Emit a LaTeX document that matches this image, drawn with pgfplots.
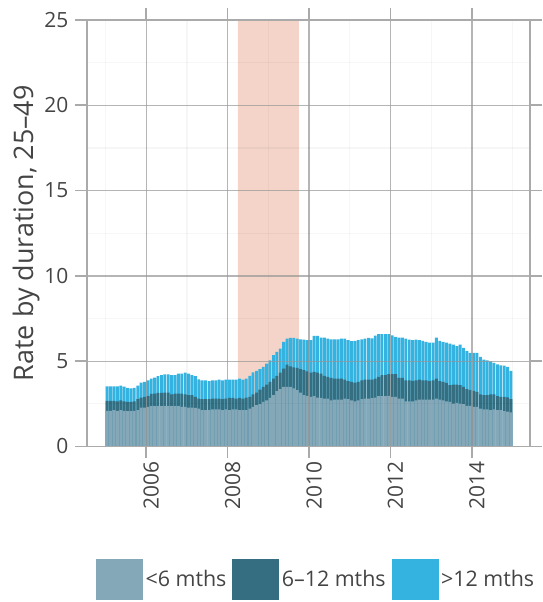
\documentclass[border=0pt]{standalone}
\usepackage{pgfplots}
\usepackage{pgfplotstable}
\usepackage{fontspec}
\setmainfont{Open Sans}
\pgfplotsset{compat=1.18}
\definecolor{cLow}{RGB}{133,168,185}
\definecolor{cMid}{RGB}{52,110,128}
\definecolor{cHigh}{RGB}{52,178,224}
\definecolor{cRec}{RGB}{244,212,200}
\definecolor{cText}{RGB}{68,68,68}
\definecolor{cAxis}{RGB}{170,170,170}
\definecolor{cGrid}{RGB}{150,150,150}
\pgfplotstableread{
x low mid tot
2005.042 2.09 2.67 3.53
2005.125 2.09 2.67 3.53
2005.208 2.13 2.67 3.53
2005.292 2.09 2.65 3.53
2005.375 2.13 2.71 3.57
2005.458 2.09 2.65 3.51
2005.542 2.07 2.62 3.43
2005.625 2.07 2.62 3.40
2005.708 2.09 2.65 3.43
2005.792 2.13 2.77 3.57
2005.875 2.28 2.87 3.75
2005.958 2.28 2.91 3.79
2006.042 2.32 2.95 3.88
2006.125 2.36 3.08 3.98
2006.208 2.36 3.10 4.04
2006.292 2.36 3.14 4.12
2006.375 2.36 3.14 4.18
2006.458 2.36 3.16 4.22
2006.542 2.36 3.16 4.22
2006.625 2.36 3.06 4.18
2006.708 2.36 3.10 4.18
2006.792 2.36 3.10 4.27
2006.875 2.32 3.10 4.27
2006.958 2.32 3.06 4.33
2007.042 2.28 3.01 4.27
2007.125 2.28 3.01 4.18
2007.208 2.26 2.91 4.12
2007.292 2.22 2.81 3.94
2007.375 2.13 2.77 3.88
2007.458 2.13 2.77 3.88
2007.542 2.13 2.77 3.83
2007.625 2.17 2.81 3.88
2007.708 2.17 2.81 3.88
2007.792 2.17 2.81 3.92
2007.875 2.13 2.77 3.88
2007.958 2.17 2.81 3.92
2008.042 2.13 2.85 3.92
2008.125 2.17 2.85 3.92
2008.208 2.17 2.81 3.92
2008.292 2.13 2.85 3.98
2008.375 2.13 2.81 3.92
2008.458 2.13 2.87 3.98
2008.542 2.22 2.91 4.14
2008.625 2.32 3.06 4.34
2008.708 2.42 3.16 4.43
2008.792 2.48 3.34 4.53
2008.875 2.62 3.49 4.66
2008.958 2.71 3.63 4.86
2009.042 2.85 3.79 5.05
2009.125 3.01 3.98 5.35
2009.208 3.24 4.14 5.54
2009.292 3.36 4.33 5.74
2009.375 3.49 4.57 6.13
2009.458 3.49 4.80 6.32
2009.542 3.49 4.70 6.36
2009.625 3.40 4.63 6.36
2009.708 3.30 4.61 6.32
2009.792 3.16 4.53 6.28
2009.875 3.01 4.47 6.26
2009.958 2.97 4.41 6.23
2010.042 2.91 4.33 6.23
2010.125 2.95 4.37 6.48
2010.208 2.87 4.33 6.48
2010.292 2.85 4.27 6.38
2010.375 2.81 4.14 6.38
2010.458 2.81 4.08 6.32
2010.542 2.71 4.02 6.28
2010.625 2.75 3.98 6.28
2010.708 2.75 3.98 6.28
2010.792 2.75 3.98 6.32
2010.875 2.81 3.92 6.32
2010.958 2.77 3.83 6.23
2011.042 2.71 3.79 6.17
2011.125 2.65 3.75 6.19
2011.208 2.71 3.79 6.23
2011.292 2.77 3.88 6.28
2011.375 2.81 3.92 6.32
2011.458 2.81 3.92 6.37
2011.542 2.83 3.92 6.34
2011.625 2.87 3.98 6.50
2011.708 2.95 4.08 6.58
2011.792 2.95 4.18 6.58
2011.875 2.95 4.18 6.58
2011.958 2.97 4.24 6.58
2012.042 2.91 4.24 6.52
2012.125 2.91 4.24 6.42
2012.208 2.81 4.02 6.38
2012.292 2.81 4.02 6.38
2012.375 2.65 3.88 6.32
2012.458 2.65 3.88 6.26
2012.542 2.65 3.84 6.23
2012.625 2.71 3.88 6.26
2012.708 2.75 3.92 6.23
2012.792 2.75 3.88 6.19
2012.875 2.75 3.88 6.13
2012.958 2.75 3.83 6.09
2013.042 2.75 3.88 6.09
2013.125 2.81 3.98 6.38
2013.208 2.75 3.83 6.19
2013.292 2.71 3.79 6.13
2013.375 2.65 3.73 6.09
2013.458 2.62 3.59 6.03
2013.542 2.52 3.63 5.97
2013.625 2.56 3.63 5.89
2013.708 2.52 3.59 5.97
2013.792 2.48 3.49 5.78
2013.875 2.38 3.36 5.60
2013.958 2.38 3.30 5.48
2014.042 2.32 3.26 5.48
2014.125 2.32 3.20 5.48
2014.208 2.22 3.05 5.25
2014.292 2.18 3.01 5.09
2014.375 2.18 3.01 5.05
2014.458 2.13 3.05 4.99
2014.542 2.18 3.05 4.90
2014.625 2.13 2.95 4.82
2014.708 2.13 2.91 4.76
2014.792 2.07 2.91 4.74
2014.875 2.05 2.88 4.66
2014.958 2.00 2.77 4.43
}\data
\begin{document}
\begin{tikzpicture}
\begin{axis}[
  scale only axis,
  width=445bp, height=428bp,
  xmin=2004.54, xmax=2015.43,
  ymin=0, ymax=25,
  axis on top,
  xtick={2006,2008,2010,2012,2014},
  minor xtick={2005,2007,2009,2011,2013,2015},
  ytick={0,5,10,15,20,25},
  minor ytick={2.5,7.5,12.5,17.5,22.5},
  grid=both,
  major grid style={draw=cGrid, draw opacity=0.7, line width=1.3bp},
  minor grid style={draw=black, draw opacity=0.035, line width=1.3bp},
  axis line style={draw=cAxis, line width=1.6bp},
  tick align=outside,
  major tick length=12bp,
  minor tick length=0pt,
  tick style={draw=cAxis, line width=1.6bp},
  /pgf/number format/assume math mode=true,
  /pgf/number format/1000 sep={},
  ticklabel style={font=\fontsize{21bp}{24bp}\selectfont, text=cText},
  yticklabel style={xshift=-3bp},
  xticklabel style={rotate=90, anchor=east, yshift=-5bp},
  ylabel={Rate by duration, 25–49},
  ylabel style={font=\fontsize{27bp}{31bp}\selectfont, text=cText, at={(axis description cs:-0.1365,0.5)}, anchor=center},
  legend image code/.code={\fill[#1] (0bp,-20.5bp) rectangle (47bp,20.5bp);},
  legend style={at={(axis description cs:0.518,-0.312)}, anchor=center, legend columns=3, draw=none, fill=none,
    font=\fontsize{21.5bp}{25bp}\selectfont, text=cText,
    /tikz/every even column/.append style={column sep=3.5bp},
    nodes={inner sep=2.5bp}},
  legend cell align=left,
]
\addplot[sharp plot, fill=cRec, draw=none, forget plot] coordinates {(2008.25,0) (2008.25,25) (2009.75,25) (2009.75,0)} \closedcycle;
\addplot[ybar, bar width=0.07, bar shift=0pt, fill=cHigh, draw=none, forget plot] table[x=x, y=tot] {\data};
\addplot[ybar, bar width=0.07, bar shift=0pt, fill=cMid, draw=none, forget plot] table[x=x, y=mid] {\data};
\addplot[ybar, bar width=0.07, bar shift=0pt, fill=cLow, draw=none, forget plot] table[x=x, y=low] {\data};
\addlegendimage{fill=cLow, draw=none}
\addlegendentry{<6 mths}
\addlegendimage{fill=cMid, draw=none}
\addlegendentry{6–12 mths}
\addlegendimage{fill=cHigh, draw=none}
\addlegendentry{>12 mths}
\end{axis}
\path (current axis.south west) ++(-87bp,-154bp) rectangle ++(537bp,602bp);
\end{tikzpicture}
\end{document}
